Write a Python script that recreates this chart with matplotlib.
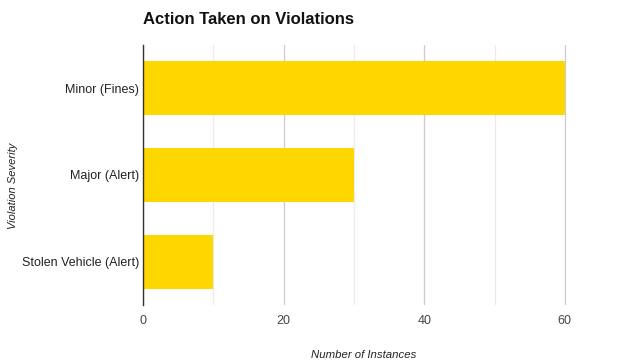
import matplotlib.pyplot as plt
from matplotlib.ticker import MultipleLocator

categories = ["Minor (Fines)", "Major (Alert)", "Stolen Vehicle (Alert)"]
instances = [60, 30, 10]

W, H = 633, 360
plt.rcParams["font.family"] = ["Liberation Sans", "DejaVu Sans"]

fig = plt.figure(figsize=(W / 100, H / 100), dpi=100)
left, right, top, bottom = 143, 633, 45, 305
ax = fig.add_axes([left / W, 1 - bottom / H, (right - left) / W, (bottom - top) / H])

ypos = range(len(categories))
ax.barh(ypos, instances, height=0.62, color="#FFD700", zorder=2)
ax.set_yticks(list(ypos))
ax.set_yticklabels(categories, fontsize=9, color="#222222")
ax.set_ylim(len(categories) - 0.5, -0.5)
ax.set_xlim(0, (right - left) / 7.03)

ax.xaxis.set_major_locator(MultipleLocator(20))
ax.xaxis.set_minor_locator(MultipleLocator(10))
ax.grid(axis="x", which="major", color="#cccccc", linewidth=0.9, zorder=0)
ax.grid(axis="x", which="minor", color="#ebebeb", linewidth=0.9, zorder=0)
ax.tick_params(axis="x", which="both", length=0, labelsize=9, colors="#444444", pad=7)
ax.tick_params(axis="y", length=0, pad=3)

for s in ["top", "right", "bottom"]:
    ax.spines[s].set_visible(False)
ax.spines["left"].set_color("#333333")
ax.spines["left"].set_linewidth(1.0)

fig.text(143 / W, 1 - 19 / H, "Action Taken on Violations", fontsize=12,
         fontweight="bold", va="center", ha="left", color="#111111")
fig.text(13 / W, 1 - 186 / H, "Violation Severity",
         family=["Liberation Sans Narrow", "Liberation Sans"], fontsize=8,
         style="italic", rotation=90, va="center", ha="center", color="#222222")
fig.text(364 / W, 1 - 355 / H, "Number of Instances", fontsize=8.2, style="italic",
         va="center", ha="center", color="#222222")

fig.savefig("out.png", dpi=100)
